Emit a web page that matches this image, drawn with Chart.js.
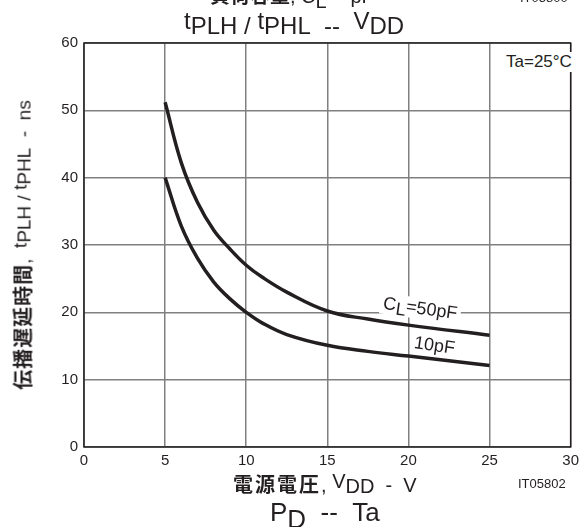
<!DOCTYPE html>
<html>
<head>
<meta charset="utf-8">
<script src="https://cdn.jsdelivr.net/npm/chart.js@4"></script>
<style>
  html, body { margin: 0; padding: 0; background: #fff; }
  #wrap { position: relative; width: 584px; height: 527px; overflow: hidden; font-family: "Liberation Sans", Arial, sans-serif; color: #231f20; }
  #chart { position: absolute; left: 0; top: 0; }
  .t { position: absolute; white-space: nowrap; }
  .jp { font-family: "Noto Sans CJK JP", sans-serif; font-weight: bold; }
  .sub { position: relative; top: 0.25em; }
  .up { position: relative; top: -0.22em; }
  .lbl { background: #fff; padding: 0 3px; }
</style>
</head>
<body>
<div id="wrap">
  <canvas id="chart" width="584" height="527"></canvas>

  <div class="t" style="left:210px; top:-20px; font-size:20px;"><span class="jp">負荷容量</span>, C<span class="sub">L</span> -- pF</div>
  <div class="t" style="left:520px; top:-10px; font-size:13px;">IT05800</div>

  <div class="t" style="left:184px; top:12px; font-size:24px;"><span class="up">t</span>PLH / <span class="up">t</span>PHL&nbsp; -- &nbsp;<span class="up">V</span>DD</div>

  <div class="t" style="left:22px; top:245px; font-size:19px; transform: translate(-50%, -50%) rotate(-90deg);"><span class="jp" style="font-size:20px; letter-spacing:1px;">伝播遅延時間</span>,&nbsp; <span class="up">t</span>PLH / <span class="up">t</span>PHL&nbsp; -&nbsp; ns</div>

  <div class="t" style="left:233px; top:469px; font-size:20px;"><span class="jp" style="letter-spacing:2px;">電源電圧</span>, <span class="up">V</span><span class="sub" style="top:1px;">DD</span>&nbsp; -&nbsp; V</div>
  <div class="t" style="left:518px; top:476px; font-size:13px;">IT05802</div>
  <div class="t" style="left:270px; top:497px; font-size:26px;">P<span class="sub">D</span>&nbsp; -- &nbsp;Ta</div>

  <div class="t lbl" style="left:503px; top:52px; font-size:17px;">Ta=25°C</div>
  <div class="t lbl" style="left:380px; top:298px; font-size:18px; transform: rotate(8deg);">C<span class="sub" style="top:4px;">L</span>=50pF</div>
  <div class="t" style="left:414px; top:335px; font-size:18px; transform: rotate(8deg);">10pF</div>
</div>

<script>
const vdd = [5, 6, 7, 8, 9, 10, 11, 12.5, 15, 17.5, 20, 25];
const cl50 = [51.2, 42.2, 36.3, 32.2, 29.4, 27, 25.2, 23, 20.2, 19, 18.1, 16.6];
const cl10 = [40, 32.8, 28, 24.5, 22, 20, 18.4, 16.7, 15.1, 14.2, 13.5, 12.1];
const xTicks = [0, 5, 10, 15, 20, 25, 30];
const yTicks = [0, 10, 20, 30, 40, 50, 60];

const toPoints = (xs, ys) => xs.map((x, i) => ({ x: x, y: ys[i] }));

const frame = {
    id: 'frame',
    afterDraw(chart) {
        const a = chart.chartArea;
        const ctx = chart.ctx;
        ctx.save();
        ctx.strokeStyle = '#231f20';
        ctx.lineWidth = 1.5;
        ctx.strokeRect(a.left, a.top, a.right - a.left, a.bottom - a.top);
        ctx.restore();
    }
};

const curve = {
    borderColor: '#231f20',
    backgroundColor: '#231f20',
    borderWidth: 3.5,
    pointRadius: 0,
    tension: 0.4,
    fill: false
};

const ctx = document.getElementById('chart').getContext('2d');
new Chart(ctx, {
    type: 'line',
    data: {
        datasets: [
            { label: 'CL=50pF', data: toPoints(vdd, cl50), ...curve },
            { label: '10pF', data: toPoints(vdd, cl10), ...curve }
        ]
    },
    options: {
        responsive: false,
        animation: false,
        layout: { padding: { left: 54, top: 43, right: 10, bottom: 50 } },
        plugins: {
            legend: { display: false },
            tooltip: { enabled: false }
        },
        scales: {
            x: {
                type: 'linear',
                min: 0,
                max: 30,
                afterBuildTicks: s => { s.ticks = xTicks.map(v => ({ value: v })); },
                afterFit: s => { s.height = 30; },
                grid: { color: '#808080', lineWidth: 1.5, drawTicks: false },
                border: { display: false },
                ticks: { color: '#231f20', padding: 5, maxRotation: 0, font: { family: 'Liberation Sans', size: 15 } }
            },
            y: {
                type: 'linear',
                min: 0,
                max: 60,
                afterBuildTicks: s => { s.ticks = yTicks.map(v => ({ value: v })); },
                afterFit: s => { s.width = 30; },
                grid: { color: '#808080', lineWidth: 1.5, drawTicks: false },
                border: { display: false },
                ticks: { color: '#231f20', padding: 6, font: { family: 'Liberation Sans', size: 15 } }
            }
        }
    },
    plugins: [frame]
});
</script>
</body>
</html>
